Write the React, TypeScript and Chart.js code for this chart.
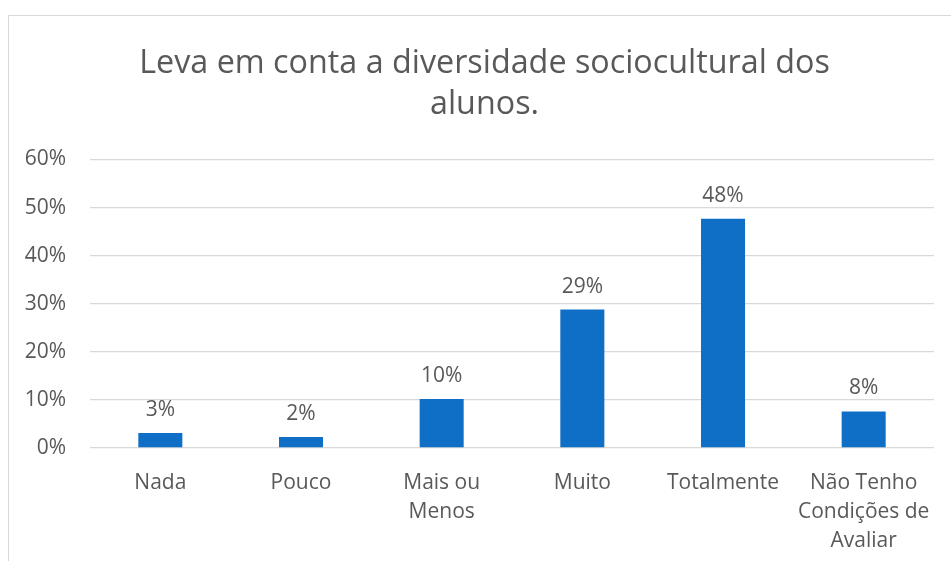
import React, { useEffect, useRef } from "react";
import { Chart, registerables } from "chart.js";

Chart.register(...registerables);

const titleLines = ["Leva em conta a diversidade sociocultural dos", "alunos."];
const categories: (string | string[])[] = [
  "Nada",
  "Pouco",
  ["Mais ou", "Menos"],
  "Muito",
  "Totalmente",
  ["Não Tenho", "Condições de", "Avaliar"],
];
const values = [3.1, 2.3, 10.2, 28.8, 47.7, 7.6];
const valueLabels = ["3%", "2%", "10%", "29%", "48%", "8%"];
const yTicks = [0, 10, 20, 30, 40, 50, 60];

const FONT = "'Open Sans', sans-serif";
const TEXT = "#595959";
const BAR = "#0F6FC6";

const dataLabelPlugin = {
  id: "dataLabels",
  afterDatasetsDraw(chart: any) {
    const ctx = chart.ctx;
    const meta = chart.getDatasetMeta(0);
    ctx.save();
    ctx.font = `21px ${FONT}`;
    ctx.fillStyle = TEXT;
    ctx.textAlign = "center";
    ctx.textBaseline = "middle";
    meta.data.forEach((el: any, i: number) => {
      ctx.fillText(valueLabels[i], el.x, el.y - 23);
    });
    ctx.restore();
  },
};

const titleShiftPlugin = {
  id: "titleShift",
  afterLayout(chart: any) {
    const tb = chart.titleBlock;
    if (tb) {
      tb.left += 13;
      tb.right += 13;
    }
  },
};

export default function App() {
  const ref = useRef<HTMLCanvasElement | null>(null);
  useEffect(() => {
    if (!ref.current) return;
    const chart = new Chart(ref.current, {
      type: "bar",
      data: {
        labels: categories,
        datasets: [
          {
            data: values,
            backgroundColor: BAR,
            categoryPercentage: 1,
            barPercentage: 0.313,
          },
        ],
      },
      options: {
        animation: false,
        responsive: false,
        maintainAspectRatio: false,
        layout: { padding: { left: 0, right: 17, top: 0, bottom: 0 } },
        plugins: {
          legend: { display: false },
          tooltip: { enabled: false },
          title: {
            display: true,
            text: titleLines,
            color: TEXT,
            font: { family: FONT, size: 32.3, weight: "normal", lineHeight: 41.5 / 32.3 },
            padding: { top: 27, bottom: 33.5 },
          },
        },
        scales: {
          x: {
            grid: { display: false, drawTicks: false },
            border: { display: false },
            ticks: {
              color: TEXT,
              font: { family: FONT, size: 21, lineHeight: 29.3 / 21 },
              padding: 20,
              autoSkip: false,
              maxRotation: 0,
            },
            afterFit(scale: any) {
              scale.height = 113;
            },
          },
          y: {
            min: 0,
            max: 60,
            grid: { color: "#D9D9D9", lineWidth: 1.3, drawTicks: false },
            border: { display: false },
            afterBuildTicks(scale: any) {
              scale.ticks = yTicks.map((v) => ({ value: v }));
            },
            ticks: {
              color: TEXT,
              font: { family: FONT, size: 21 },
              padding: 24,
              callback: (v: any) => `${v}%`,
            },
            afterFit(scale: any) {
              scale.width = 81;
            },
          },
        },
      },
      plugins: [dataLabelPlugin, titleShiftPlugin],
    });
    return () => chart.destroy();
  }, []);

  return (
    <div
      style={{
        position: "fixed",
        left: 8,
        top: 15,
        width: 943,
        height: 546,
        borderLeft: "1.5px solid #D9D9D9",
        borderTop: "1.5px solid #D9D9D9",
        background: "#fff",
        boxSizing: "border-box",
      }}
    >
      <canvas ref={ref} width={942} height={545} style={{ display: "block" }} />
    </div>
  );
}
